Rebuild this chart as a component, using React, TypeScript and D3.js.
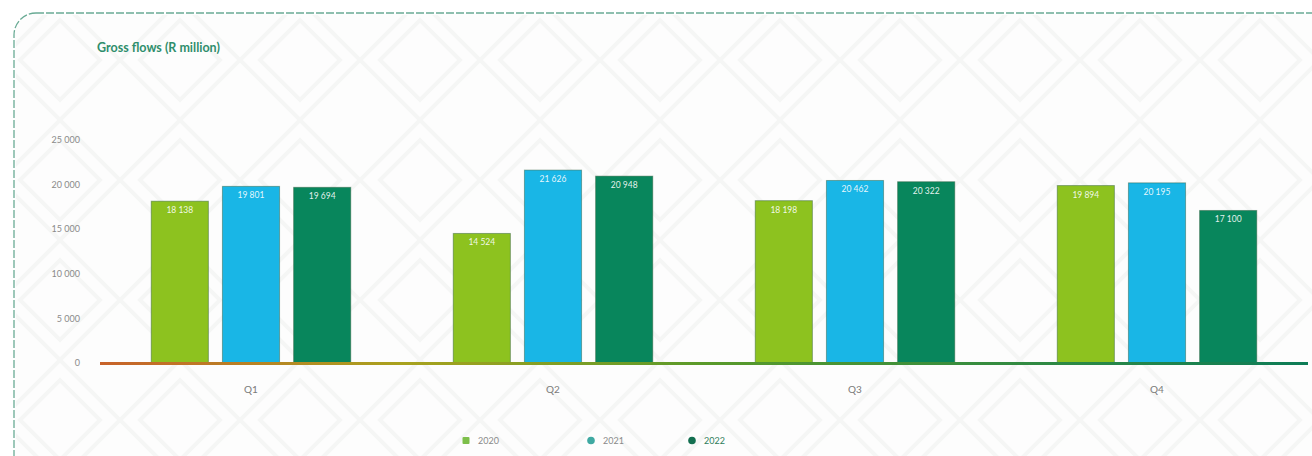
import React from "react";
import * as d3 from "d3";

const quarters = ["Q1", "Q2", "Q3", "Q4"];
const years = ["2020", "2021", "2022"];
const values2020 = [18138, 14524, 18198, 19894];
const values2021 = [19801, 21626, 20462, 20195];
const values2022 = [19694, 20948, 20322, 17100];
const yTicks = [0, 5000, 10000, 15000, 20000, 25000];
const barColors = ["#8dc21f", "#19b6e6", "#08865c"];
const legendColors = ["#7dbf4a", "#3fa9a2", "#136f50"];

const W = 1312;
const H = 456;
const margin = { left: 100, right: 4, top: 140, bottom: 93 };

const fmt = (v: number) => d3.format(",")(v).replace(/,/g, " ");

export default function App() {
  const series = [values2020, values2021, values2022];
  const x0 = d3.scaleBand<string>().domain(quarters).range([margin.left, W - margin.right]).paddingInner(0).paddingOuter(0);
  const x1 = d3.scaleBand<string>().domain(years).range([0, x0.bandwidth()]).paddingInner(0.197).paddingOuter(0.72);
  const y = d3.scaleLinear().domain([0, 25000]).range([H - margin.bottom, margin.top]);

  return (
    <div style={{ position: "absolute", left: 0, top: 0 }}>
      <svg width={W} height={H} style={{ display: "block", fontFamily: "Lato, 'Noto Sans', sans-serif" }}>
        <defs>
          <linearGradient id="axisGrad" x1="0" x2="1" y1="0" y2="0">
            <stop offset="0" stopColor="#c8622a" />
            <stop offset="0.25" stopColor="#a9a21e" />
            <stop offset="0.5" stopColor="#5a9a2a" />
            <stop offset="1" stopColor="#0d7c57" />
          </linearGradient>
          <pattern id="bgpat" width="120" height="120" patternUnits="userSpaceOnUse">
            <path d="M0 60 L60 0 L120 60 L60 120 Z M20 60 L60 20 L100 60 L60 100 Z" fill="none" stroke="#f5f6f5" strokeWidth="4" />
          </pattern>
        </defs>
        <rect x={0} y={0} width={W} height={H} fill="#ffffff" />
        <rect x={14} y={13} width={W + 20} height={H + 30} rx={22} fill="#fdfdfd" stroke="#6aab95" strokeWidth={1.3} strokeDasharray="8 2" />
        <rect x={16} y={15} width={W} height={H} fill="url(#bgpat)" rx={20} />
        <text x={97} y={52} fontSize={12.5} fontWeight={700} fill="#2f8e6c">Gross flows (R million)</text>

        {yTicks.map((t) => (
          <text key={t} x={80} y={y(t)} dy="0.35em" textAnchor="end" fontSize={9} fill="#8a8a8a">
            {fmt(t)}
          </text>
        ))}

        {quarters.map((q, qi) => (
          <g key={q} transform={`translate(${x0(q)},0)`}>
            {years.map((yr, si) => {
              const v = series[si][qi];
              const bx = x1(yr) as number;
              const bw = x1.bandwidth();
              return (
                <g key={yr}>
                  <rect x={bx} y={y(v)} width={bw} height={y(0) - y(v)} fill={barColors[si]} stroke="#2b5a3a" strokeOpacity={0.45} strokeWidth={1} />
                  <text x={bx + bw / 2} y={y(v) + 12} textAnchor="middle" fontSize={8.5} fill="#ffffff" fillOpacity={0.9}>
                    {fmt(v)}
                  </text>
                </g>
              );
            })}
            <text x={x0.bandwidth() / 2} y={y(0) + 30} textAnchor="middle" fontSize={10} fill="#7a7a7a">{q}</text>
          </g>
        ))}

        <rect x={margin.left} y={y(0) - 1} width={W - margin.left - margin.right} height={3} fill="url(#axisGrad)" />

        {years.map((yr, i) => {
          const lx = [466, 591, 692][i];
          return (
            <g key={yr}>
              {i === 0 ? (
                <rect x={lx - 3.5} y={437} width={7} height={7} rx={1} fill={legendColors[i]} />
              ) : (
                <circle cx={lx} cy={440.5} r={3.8} fill={legendColors[i]} />
              )}
              <text x={lx + 12} y={440.5} dy="0.35em" fontSize={9} fill={i === 2 ? "#2f7d5c" : "#8a8a8a"}>{yr}</text>
            </g>
          );
        })}
      </svg>
    </div>
  );
}
